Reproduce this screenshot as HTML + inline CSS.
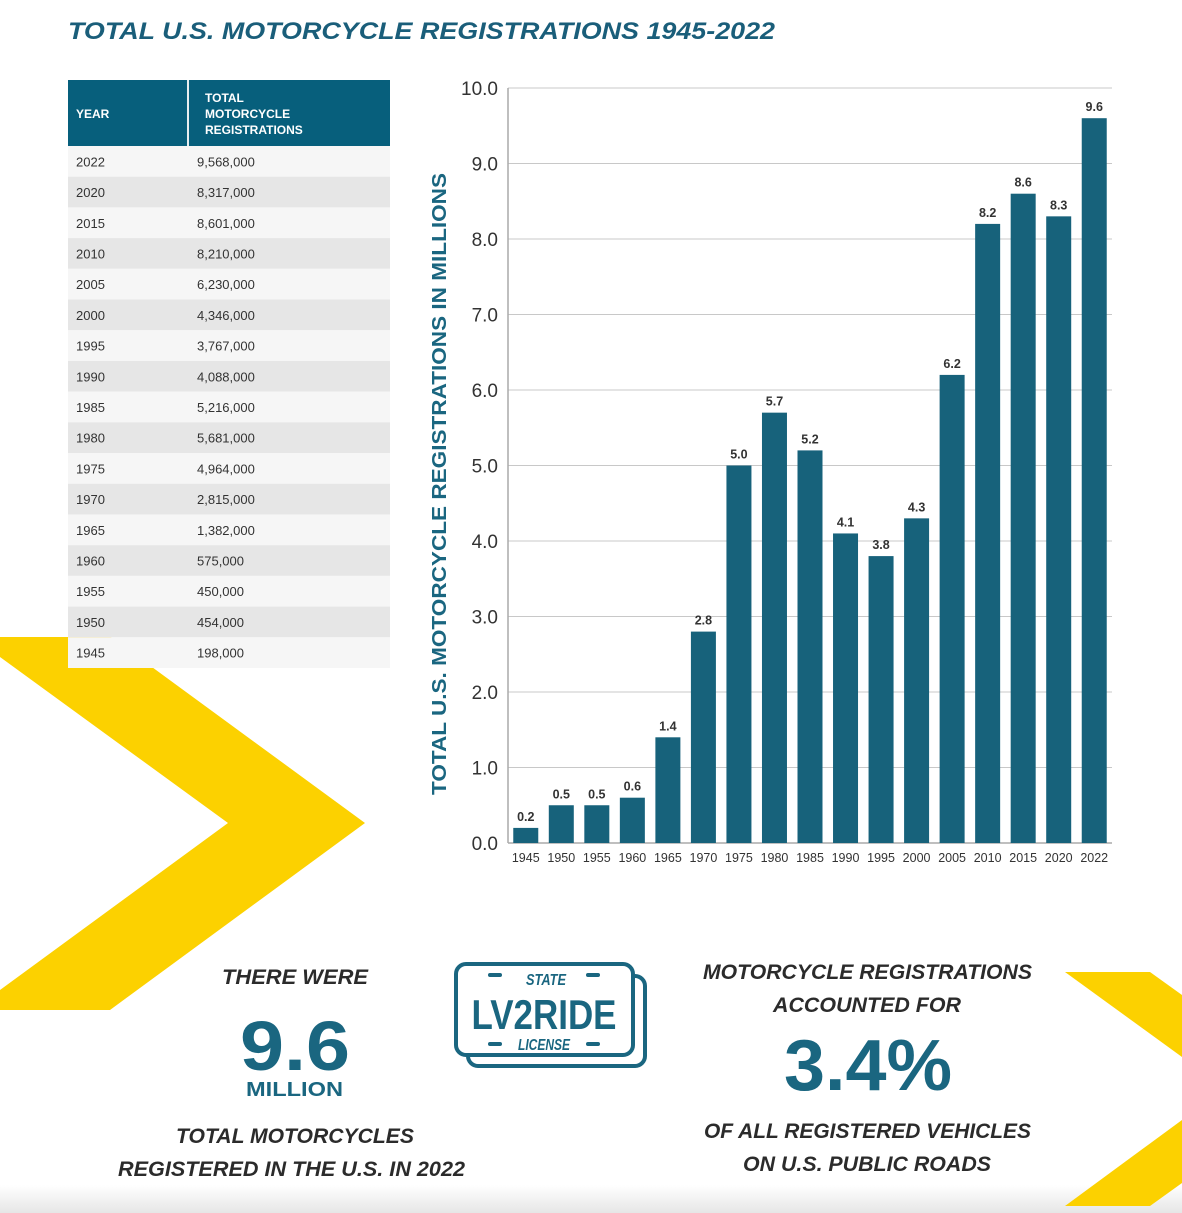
<!DOCTYPE html>
<html><head><meta charset="utf-8">
<style>
html,body{margin:0;padding:0;background:#fff;}
svg{display:block;font-family:"Liberation Sans",sans-serif;}
</style></head>
<body>
<svg id="page" width="1182" height="1213" viewBox="0 0 1182 1213" xmlns="http://www.w3.org/2000/svg">
<defs>
<linearGradient id="fade" x1="0" y1="0" x2="0" y2="1"><stop offset="0" stop-color="#ffffff"/><stop offset="1" stop-color="#e6e6e6"/></linearGradient>
</defs>
<rect x="0" y="1185" width="1182" height="28" fill="url(#fade)"/>
<polygon fill="#fcd100" points="0,637 111,637 365,823 110,1010 0,1010 0,990 228,823 0,657"/>
<polygon fill="#fcd100" points="1065,972 1150,972 1182,995 1182,1057"/>
<polygon fill="#fcd100" points="1065,1206 1150,1206 1182,1183 1182,1120"/>

<text x="68" y="39" font-size="24" font-weight="bold" font-style="italic" fill="#1a5e7a" textLength="707" lengthAdjust="spacingAndGlyphs">TOTAL U.S. MOTORCYCLE REGISTRATIONS 1945-2022</text>

<g id="table"></g>
<g id="chart"></g>

<g font-weight="bold" font-style="italic" fill="#2b2b2b">
<text x="222" y="984" font-size="21" textLength="146" lengthAdjust="spacingAndGlyphs">THERE WERE</text>
<text x="240" y="1070" font-size="70" font-style="normal" fill="#1a6680" textLength="110" lengthAdjust="spacingAndGlyphs">9.6</text>
<text x="246" y="1096" font-size="20" font-style="normal" fill="#1a6680" textLength="97" lengthAdjust="spacingAndGlyphs">MILLION</text>
<text x="176" y="1143" font-size="21" textLength="238" lengthAdjust="spacingAndGlyphs">TOTAL MOTORCYCLES</text>
<text x="118" y="1176" font-size="21" textLength="347" lengthAdjust="spacingAndGlyphs">REGISTERED IN THE U.S. IN 2022</text>
</g>

<g fill="none" stroke="#1a6680" stroke-width="4">
<rect x="468" y="976" width="177" height="90" rx="10" fill="#fff"/>
<rect x="456" y="964" width="177" height="91" rx="10" fill="#fff"/>
<g stroke-width="4" stroke-linecap="round">
<line x1="490" y1="975" x2="500" y2="975"/><line x1="588" y1="975" x2="598" y2="975"/>
<line x1="490" y1="1044" x2="500" y2="1044"/><line x1="588" y1="1044" x2="598" y2="1044"/>
</g>
<text x="546" y="985" text-anchor="middle" font-size="16" font-weight="bold" font-style="italic" fill="#1a6680" stroke="none" textLength="40" lengthAdjust="spacingAndGlyphs">STATE</text>
<text x="544" y="1029" text-anchor="middle" font-size="42" font-weight="bold" fill="#1a6680" stroke="none" textLength="145" lengthAdjust="spacingAndGlyphs">LV2RIDE</text>
<text x="544" y="1050" text-anchor="middle" font-size="16" font-weight="bold" font-style="italic" fill="#1a6680" stroke="none" textLength="52" lengthAdjust="spacingAndGlyphs">LICENSE</text>
</g>

<g font-weight="bold" font-style="italic" fill="#2b2b2b">
<text x="703" y="979" font-size="21" textLength="329" lengthAdjust="spacingAndGlyphs">MOTORCYCLE REGISTRATIONS</text>
<text x="773" y="1012" font-size="21" textLength="188" lengthAdjust="spacingAndGlyphs">ACCOUNTED FOR</text>
<text x="784" y="1090" font-size="72" font-style="normal" fill="#1a6680" textLength="168" lengthAdjust="spacingAndGlyphs">3.4%</text>
<text x="704" y="1138" font-size="21" textLength="327" lengthAdjust="spacingAndGlyphs">OF ALL REGISTERED VEHICLES</text>
<text x="743" y="1171" font-size="21" textLength="248" lengthAdjust="spacingAndGlyphs">ON U.S. PUBLIC ROADS</text>
</g>
</svg>
<script>
const NS="http://www.w3.org/2000/svg";
const tableYears=["2022","2020","2015","2010","2005","2000","1995","1990","1985","1980","1975","1970","1965","1960","1955","1950","1945"];
const tableValues=["9,568,000","8,317,000","8,601,000","8,210,000","6,230,000","4,346,000","3,767,000","4,088,000","5,216,000","5,681,000","4,964,000","2,815,000","1,382,000","575,000","450,000","454,000","198,000"];
const categories=["1945","1950","1955","1960","1965","1970","1975","1980","1985","1990","1995","2000","2005","2010","2015","2020","2022"];
const values=[0.2,0.5,0.5,0.6,1.4,2.8,5.0,5.7,5.2,4.1,3.8,4.3,6.2,8.2,8.6,8.3,9.6];
const valueLabels=["0.2","0.5","0.5","0.6","1.4","2.8","5.0","5.7","5.2","4.1","3.8","4.3","6.2","8.2","8.6","8.3","9.6"];
const yTicks=[0,1,2,3,4,5,6,7,8,9,10];
const yTickLabels=["0.0","1.0","2.0","3.0","4.0","5.0","6.0","7.0","8.0","9.0","10.0"];

function mk(tag,attrs,parent,txt){const e=document.createElementNS(NS,tag);for(const k in attrs)e.setAttribute(k,attrs[k]);if(txt!==undefined)e.textContent=txt;parent.appendChild(e);return e;}

// table
const tb=document.getElementById('table');
let h=mk('rect',{x:68,y:80,width:322,height:66,fill:'#075f7c'},tb);


mk('line',{x1:188,y1:80,x2:188,y2:146,stroke:'#e8eef0','stroke-width':2},tb);
mk('text',{x:76,y:118,'font-size':12,'font-weight':'bold',fill:'#fff'},tb,'YEAR');
["TOTAL","MOTORCYCLE","REGISTRATIONS"].forEach((t,i)=>mk('text',{x:205,y:102+i*16,'font-size':12,'font-weight':'bold',fill:'#fff'},tb,t));
const rowH=(668-146)/tableYears.length;
tableYears.forEach((y,i)=>{
  const ry=146+i*rowH;
  const r=mk('rect',{x:68,y:ry,width:322,height:rowH,fill:i%2?'#e6e6e6':'#f6f6f6'},tb);
  
  
  mk('text',{x:76,y:ry+rowH/2+5,'font-size':13,fill:'#333'},tb,y);
  mk('text',{x:197,y:ry+rowH/2+5,'font-size':13,fill:'#333'},tb,tableValues[i]);
});

// chart
const ch=document.getElementById('chart');
const x0=508,x1=1112,y0=843,yTop=88,yMax=10;
const yScale=v=>y0-(v/yMax)*(y0-yTop);
const band=(x1-x0)/categories.length;
const xScale=i=>x0+i*band;
const barW=25;
yTicks.forEach((t,i)=>{
  const gy=yScale(t);
  if(t>0){const g=mk('line',{x1:x0,y1:gy,x2:x1,y2:gy,stroke:'#c8c8c8','stroke-width':1},ch);
  
  }
  const l=mk('text',{x:498,y:gy+7,'text-anchor':'end','font-size':19,fill:'#333'},ch,yTickLabels[i]);
  
  
});
mk('line',{x1:x0,y1:yTop,x2:x0,y2:y0,stroke:'#aaa','stroke-width':1.5},ch);
mk('line',{x1:x0,y1:y0,x2:x1,y2:y0,stroke:'#aaa','stroke-width':1.5},ch);
categories.forEach((c,i)=>{
  const bx=xScale(i)+(band-barW)/2, by=yScale(values[i]);
  const b=mk('rect',{x:bx,y:by,width:barW,height:y0-by,fill:'#17627b'},ch);
  
  
  const v=mk('text',{x:bx+barW/2,y:by-7,'text-anchor':'middle','font-size':12.5,'font-weight':'bold',fill:'#333'},ch,valueLabels[i]);
  
  
  const xl=mk('text',{x:xScale(i)+band/2,y:862,'text-anchor':'middle','font-size':12.5,fill:'#333'},ch,c);
  
  
});
const at=mk('text',{x:0,y:0,transform:'translate(446,484) rotate(-90)','text-anchor':'middle','font-size':20,'font-weight':'bold',fill:'#1a6680',textLength:622,lengthAdjust:'spacingAndGlyphs'},ch,'TOTAL U.S. MOTORCYCLE REGISTRATIONS IN MILLIONS');


</script>
</body></html>
